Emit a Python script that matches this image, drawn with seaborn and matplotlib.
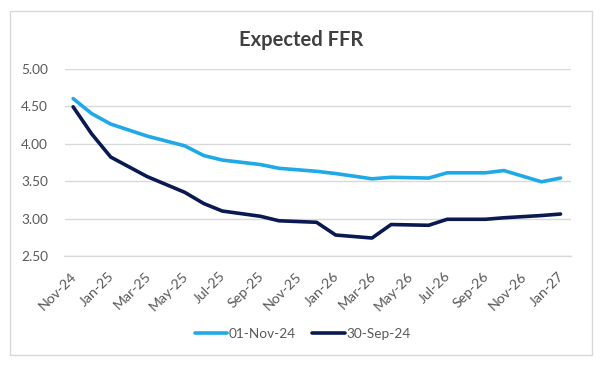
"""Expected FFR line chart (seaborn recreation)."""

import matplotlib

matplotlib.use("Agg")

import matplotlib.dates as mdates
import matplotlib.pyplot as plt
import matplotlib.transforms as mtransforms
import pandas as pd
import seaborn as sns
from matplotlib.patches import Rectangle

# --- data -------------------------------------------------------------------
meeting_dates = [
    "2024-11-15", "2024-12-15", "2025-01-15", "2025-03-15", "2025-05-15",
    "2025-06-15", "2025-07-15", "2025-09-15", "2025-10-15", "2025-12-15",
    "2026-01-15", "2026-03-15", "2026-04-15", "2026-06-15", "2026-07-15",
    "2026-09-15", "2026-10-15", "2026-12-15", "2027-01-15",
]
ffr_01_nov_24 = [
    4.60, 4.40, 4.26, 4.10, 3.97, 3.84, 3.78, 3.72, 3.67, 3.63,
    3.60, 3.53, 3.55, 3.54, 3.61, 3.61, 3.64, 3.49, 3.54,
]
ffr_30_sep_24 = [
    4.49, 4.13, 3.82, 3.56, 3.35, 3.20, 3.10, 3.03, 2.97, 2.95,
    2.78, 2.74, 2.92, 2.91, 2.99, 2.99, 3.01, 3.04, 3.06,
]
series_labels = ["01-Nov-24", "30-Sep-24"]
series_colors = ["#1FA9E6", "#0A1A50"]
y_ticks = [2.50, 3.00, 3.50, 4.00, 4.50, 5.00]

df = pd.concat(
    [
        pd.DataFrame({"date": pd.to_datetime(meeting_dates), "rate": ffr_01_nov_24,
                      "series": series_labels[0]}),
        pd.DataFrame({"date": pd.to_datetime(meeting_dates), "rate": ffr_30_sep_24,
                      "series": series_labels[1]}),
    ],
    ignore_index=True,
)

# --- style ------------------------------------------------------------------
sns.set_style("white")
plt.rcParams["font.family"] = ["Lato", "DejaVu Sans"]

grid_color = "#D9D9D9"
text_color = "#595959"

fig = plt.figure(figsize=(6.0, 3.66), dpi=100)
ax = fig.add_axes([0.1075, 0.3005, 0.8442, 0.5121])

sns.lineplot(
    data=df, x="date", y="rate", hue="series",
    palette=dict(zip(series_labels, series_colors)),
    linewidth=2.6, ax=ax, legend=False,
)

ax.set_xlim(pd.Timestamp("2024-11-01"), pd.Timestamp("2027-02-01"))
ax.set_ylim(2.5, 5.0)
ax.set_yticks(y_ticks)
ax.set_yticklabels([f"{v:.2f}" for v in y_ticks])
ax.xaxis.set_major_locator(mdates.MonthLocator(bymonth=[1, 3, 5, 7, 9, 11]))
ax.xaxis.set_major_formatter(mdates.DateFormatter("%b-%y"))

ax.grid(axis="y", color=grid_color, linewidth=1.0)
ax.set_axisbelow(True)
for side in ["left", "right", "top"]:
    ax.spines[side].set_visible(False)
ax.spines["bottom"].set_color(grid_color)
ax.spines["bottom"].set_linewidth(1.0)

ax.tick_params(axis="x", direction="out", length=5, width=1.0, color=grid_color,
               labelsize=10.2, labelcolor=text_color, pad=5)
ax.tick_params(axis="y", length=0, labelsize=9.8, labelcolor=text_color, pad=12)
shift = mtransforms.ScaledTranslation(6 / 100, 0, fig.dpi_scale_trans)
for lbl in ax.get_xticklabels():
    lbl.set_rotation(45)
    lbl.set_ha("right")
    lbl.set_rotation_mode("anchor")
    lbl.set_transform(lbl.get_transform() + shift)
ax.set_xlabel("")
ax.set_ylabel("")

fig.text(0.502, 0.89, "Expected FFR", ha="center", va="center",
         fontsize=14.5, fontweight="bold", color="#404040")

handles = [plt.Line2D([], [], color=c, linewidth=2.6) for c in series_colors]
fig.legend(handles, series_labels, loc="center", bbox_to_anchor=(0.504, 0.087),
           ncol=2, frameon=False, fontsize=9.8, labelcolor=text_color,
           handlelength=2.4, handletextpad=0.1, columnspacing=1.2)

fig.patches.append(Rectangle((10 / 600, 11 / 366), 582 / 600, 344 / 366,
                             transform=fig.transFigure, fill=False,
                             edgecolor=grid_color, linewidth=1.0))

fig.savefig("out.png", dpi=100)
